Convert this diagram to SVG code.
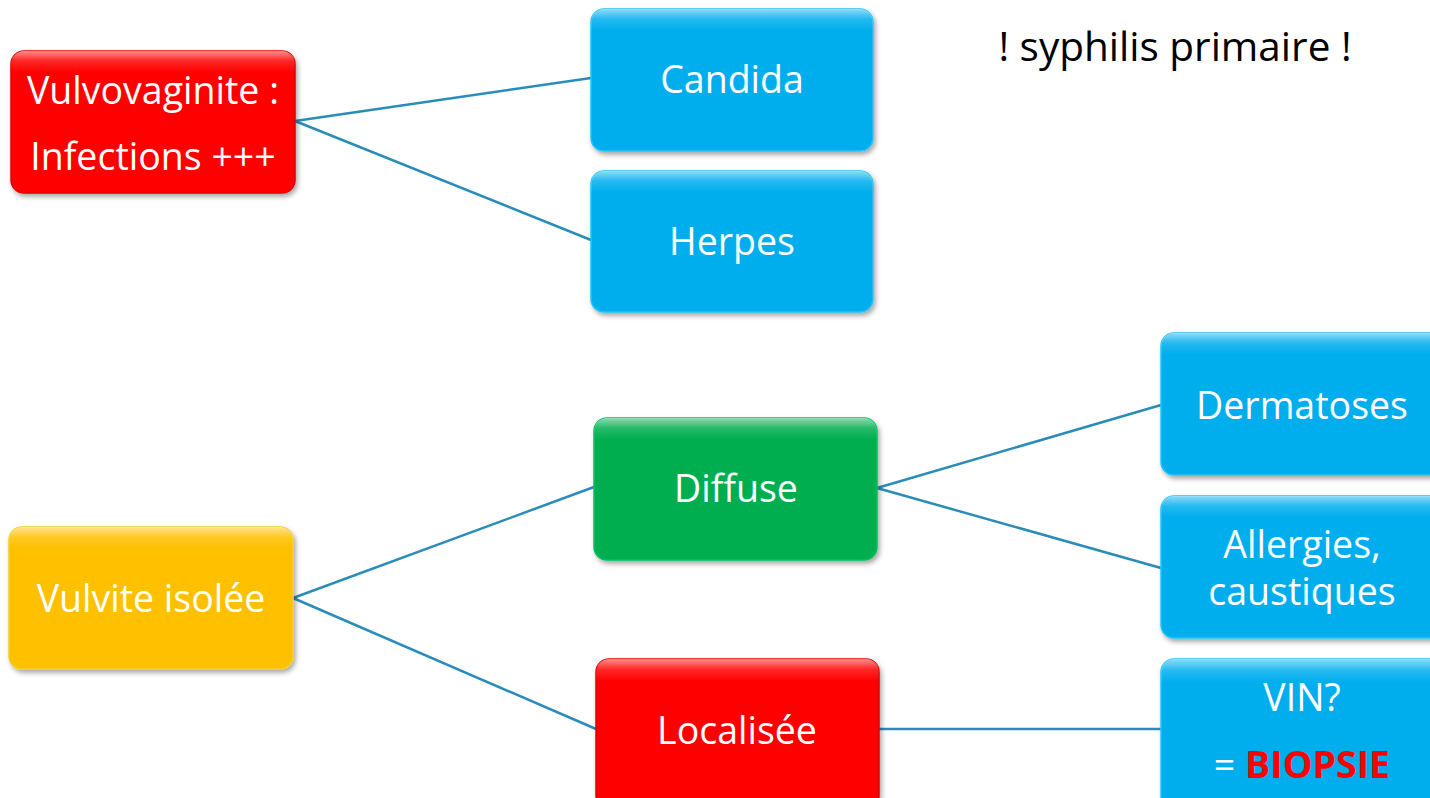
<svg xmlns="http://www.w3.org/2000/svg" width="1430" height="798" viewBox="0 0 1430 798">
<style>
.box{stroke-width:1.5;filter:url(#sh)}
.red{fill:#FF0000;stroke:#E00000}
.blue{fill:#05AEEE;stroke:#22C4F5}
.green{fill:#00AE50;stroke:#00C060}
.yellow{fill:#FFC000;stroke:#F0D020}
.hl{fill:url(#gl);pointer-events:none}
.t{font-family:"Open Sans","Liberation Sans",sans-serif;font-size:37.5px;fill:#FFFFFF;text-anchor:middle;dominant-baseline:central}
.k{font-family:"Open Sans","Liberation Sans",sans-serif;font-size:40.5px;fill:#000000;text-anchor:middle;dominant-baseline:central}
.c{stroke:#2A8CB8;stroke-width:2.5;fill:none}
</style>
<defs>
<filter id="sh" x="-10%" y="-10%" width="120%" height="130%">
<feDropShadow dx="2" dy="3" stdDeviation="2.5" flood-color="#000" flood-opacity="0.35"/>
</filter>
<linearGradient id="gl" x1="0" y1="0" x2="0" y2="1">
<stop offset="0" stop-color="#FFFFFF" stop-opacity="0.55"/>
<stop offset="0.07" stop-color="#FFFFFF" stop-opacity="0.15"/>
<stop offset="0.15" stop-color="#FFFFFF" stop-opacity="0"/>
<stop offset="1" stop-color="#FFFFFF" stop-opacity="0"/>
</linearGradient>
</defs>
<rect width="1430" height="798" fill="#FFFFFF"/>
<g id="connectors">
<line class="c" x1="295" y1="121" x2="591" y2="78"/>
<line class="c" x1="295" y1="121" x2="591" y2="240"/>
<line class="c" x1="293" y1="598" x2="594" y2="487"/>
<line class="c" x1="293" y1="598" x2="596" y2="729"/>
<line class="c" x1="877" y1="488" x2="1161" y2="405"/>
<line class="c" x1="877" y1="488" x2="1161" y2="568"/>
<line class="c" x1="879" y1="729" x2="1161" y2="729"/>
</g>
<g id="vulvovaginite">
<rect class="box red" x="11" y="51" width="284" height="142" rx="13"/>
<rect class="hl" x="11" y="51" width="284" height="142" rx="13"/>
<text class="t" x="153" y="89" font-size="38">Vulvovaginite :</text>
<text class="t" x="153" y="155" font-size="38">Infections +++</text>
</g>
<g id="candida">
<rect class="box blue" x="591" y="9" width="282" height="142" rx="13"/>
<rect class="hl" x="591" y="9" width="282" height="142" rx="13"/>
<text class="t" x="732" y="78">Candida</text>
</g>
<g id="herpes">
<rect class="box blue" x="591" y="171" width="282" height="141" rx="13"/>
<rect class="hl" x="591" y="171" width="282" height="141" rx="13"/>
<text class="t" x="732" y="240">Herpes</text>
</g>
<g id="syphilis">
<text class="k" x="1175" y="45">! syphilis primaire !</text>
</g>
<g id="vulvite">
<rect class="box yellow" x="9" y="527" width="284" height="142" rx="13"/>
<rect class="hl" x="9" y="527" width="284" height="142" rx="13"/>
<text class="t" x="151" y="597">Vulvite isolée</text>
</g>
<g id="diffuse">
<rect class="box green" x="594" y="418" width="283" height="142" rx="13"/>
<rect class="hl" x="594" y="418" width="283" height="142" rx="13"/>
<text class="t" x="736" y="487">Diffuse</text>
</g>
<g id="localisee">
<rect class="box red" x="596" y="659" width="283" height="150" rx="13"/>
<rect class="hl" x="596" y="659" width="283" height="150" rx="13"/>
<text class="t" x="737" y="729">Localisée</text>
</g>
<g id="dermatoses">
<rect class="box blue" x="1161" y="333" width="290" height="142" rx="13"/>
<rect class="hl" x="1161" y="333" width="290" height="142" rx="13"/>
<text class="t" x="1302" y="404">Dermatoses</text>
</g>
<g id="allergies">
<rect class="box blue" x="1161" y="496" width="290" height="142" rx="13"/>
<rect class="hl" x="1161" y="496" width="290" height="142" rx="13"/>
<text class="t" x="1302" y="543">Allergies,</text>
<text class="t" x="1302" y="590">caustiques</text>
</g>
<g id="vin">
<rect class="box blue" x="1161" y="659" width="290" height="160" rx="13"/>
<rect class="hl" x="1161" y="659" width="290" height="160" rx="13"/>
<text class="t" x="1302" y="696">VIN?</text>
<text class="t" x="1302" y="763">= <tspan fill="#FF0000" font-weight="bold">BIOPSIE</tspan></text>
</g>
</svg>
